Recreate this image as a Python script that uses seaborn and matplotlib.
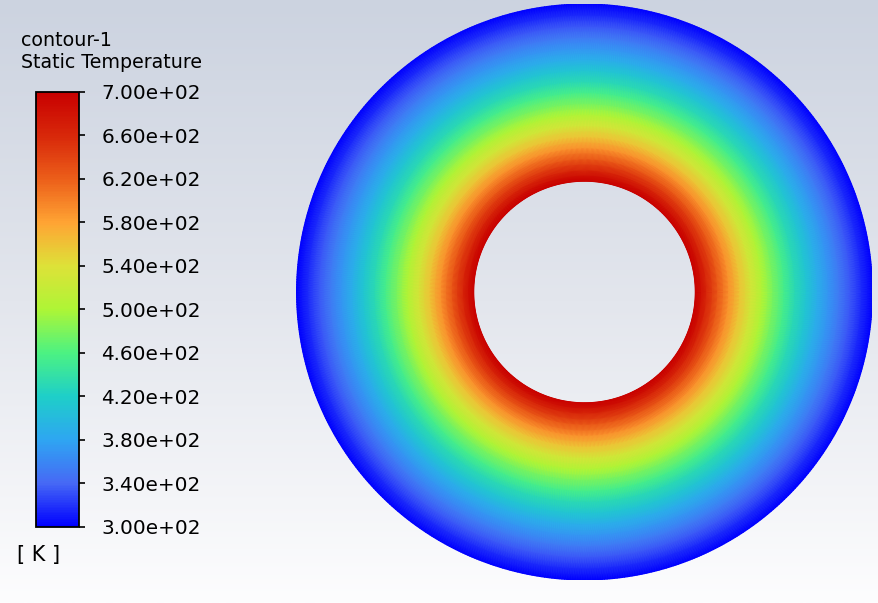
import numpy as np
import matplotlib
matplotlib.use("Agg")
import matplotlib.pyplot as plt
import seaborn as sns

# radial stations across the annulus (mm) and static temperature (K)
radius = [50, 55, 60, 65, 70, 75, 80, 85, 90, 95, 100, 105, 110, 115, 120, 125, 130]
temperature = [700, 660, 624, 590, 559, 530, 503, 478, 454, 431, 410, 389, 370, 351, 333, 316, 300]

# legend
tick_values = [300, 340, 380, 420, 460, 500, 540, 580, 620, 660, 700]
tick_labels = ["3.00e+02", "3.40e+02", "3.80e+02", "4.20e+02", "4.60e+02", "5.00e+02",
               "5.40e+02", "5.80e+02", "6.20e+02", "6.60e+02", "7.00e+02"]
band_colors = ["#0000ff", "#4669f5", "#2ea6f2", "#1ecfc8", "#4cf282", "#aef536",
               "#dde238", "#ffa434", "#ec5f1a", "#d8280a", "#c80000"]

sns.set_style("white")
plt.rcParams["font.family"] = ["DejaVu Sans"]
plt.rcParams["text.color"] = "black"

cmap = sns.blend_palette(band_colors, as_cmap=True)
bg_cmap = sns.blend_palette(["#ccd3e0", "#e3e6ed", "#fdfdfe"], as_cmap=True)

fig = plt.figure(figsize=(8.79, 6.03), dpi=100)

# gradient background like the Fluent viewer
bg = fig.add_axes([0, 0, 1, 1], zorder=-1)
bg.imshow(np.linspace(0, 1, 256)[:, None], aspect="auto", cmap=bg_cmap,
          extent=[0, 1, 0, 1])
bg.set_axis_off()

# annulus
ax = fig.add_axes([296.5 / 879, 23 / 603, 576 / 879, 576 / 603])
ax.patch.set_alpha(0)
theta = np.linspace(0, 2 * np.pi, 721)
R, TH = np.meshgrid(radius, theta)
T = np.meshgrid(temperature, theta)[0]
mesh = ax.pcolormesh(R * np.cos(TH), R * np.sin(TH), T, shading="gouraud",
                     cmap=cmap, vmin=300, vmax=700)
ax.set_xlim(-130, 130)
ax.set_ylim(-130, 130)
ax.set_aspect("equal")
ax.set_axis_off()

# colorbar
cax = fig.add_axes([36 / 879, (603 - 527) / 603, 43 / 879, 435 / 603])
cb = fig.colorbar(mesh, cax=cax, ticks=tick_values)
cb.set_ticklabels(tick_labels)
cb.outline.set_linewidth(1.3)
cb.outline.set_edgecolor("black")
cax.tick_params(direction="out", length=4, width=1.2, pad=12, labelsize=14.4,
                colors="black")

fig.text(21 / 879, 1 - 46 / 603, "contour-1", fontsize=13.7, va="baseline")
fig.text(21 / 879, 1 - 68 / 603, "Static Temperature", fontsize=13.7, va="baseline")
fig.text(17 / 879, 1 - 561 / 603, "[ K ]", fontsize=15, va="baseline")

fig.savefig("out.png", dpi=100)
